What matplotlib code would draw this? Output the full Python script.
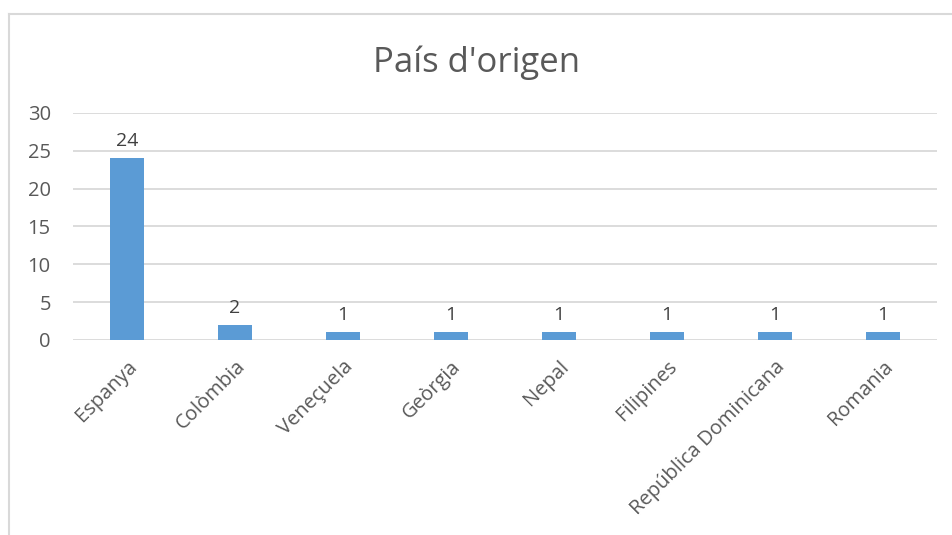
import matplotlib.pyplot as plt
from matplotlib.lines import Line2D

countries = ["Espanya", "Colòmbia", "Veneçuela", "Geòrgia", "Nepal",
             "Filipines", "República Dominicana", "Romania"]
counts = [24, 2, 1, 1, 1, 1, 1, 1]
y_ticks = [0, 5, 10, 15, 20, 25, 30]

plt.rcParams['font.family'] = ['Open Sans', 'DejaVu Sans']

fig = plt.figure(figsize=(9.52, 5.35), dpi=100)
ax = fig.add_axes([0.0767, 0.3645, 0.9073, 0.4245])

x = list(range(len(countries)))
bars = ax.bar(x, counts, width=0.31, color='#5B9BD5', zorder=3)
for b, v in zip(bars, counts):
    ax.annotate(str(v), (b.get_x() + b.get_width() / 2, v), xytext=(0, 6),
                textcoords='offset points', ha='center', va='bottom',
                fontsize=14, color='#404040')

ax.set_xlim(-0.5, len(countries) - 0.5)
ax.set_ylim(0, 30)
ax.set_yticks(y_ticks)
ax.set_xticks(x)
ax.set_xticklabels(countries, rotation=45, ha='right', rotation_mode='anchor')
ax.tick_params(axis='both', length=0, labelsize=14.5, colors='#595959')
ax.tick_params(axis='y', pad=16)
ax.tick_params(axis='x', pad=12)
ax.grid(axis='y', color='#D9D9D9', linewidth=1.3, zorder=0)
for s in ax.spines.values():
    s.set_visible(False)

fig.text(477 / 952, 1 - 63 / 535, "País d'origen", fontsize=25,
         color='#595959', ha='center', va='center')

# chart border (only left and top visible in the crop)
fig.add_artist(Line2D([9 / 952, 9 / 952], [0, 1 - 14 / 535], color='#D9D9D9', linewidth=1.5))
fig.add_artist(Line2D([9 / 952, 1], [1 - 14 / 535, 1 - 14 / 535], color='#D9D9D9', linewidth=1.5))

fig.savefig('out.png', dpi=100)
